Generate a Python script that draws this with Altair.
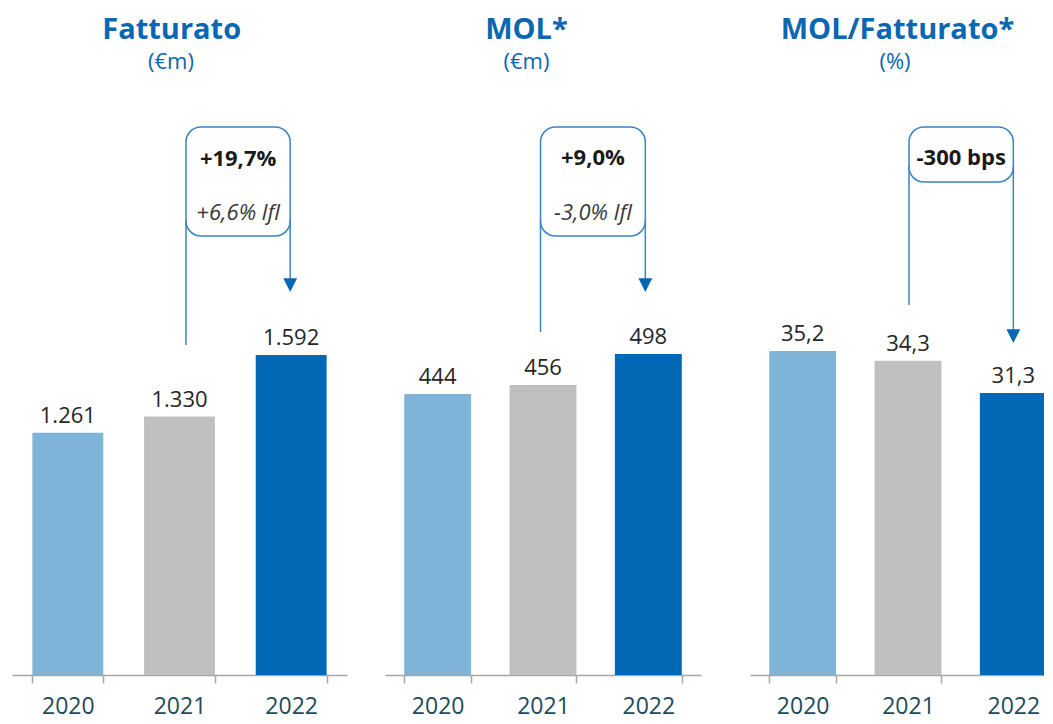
import altair as alt
import pandas as pd

years = ["2020", "2021", "2022"]
fatturato = [1261, 1330, 1592]
mol = [444, 456, 498]
mol_pct = [35.2, 34.3, 31.3]
fatturato_lbl = ["1.261", "1.330", "1.592"]
mol_lbl = ["444", "456", "498"]
mol_pct_lbl = ["35,2", "34,3", "31,3"]
titles = ["Fatturato", "MOL*", "MOL/Fatturato*"]
subtitles = ["(€m)", "(€m)", "(%)"]
changes = ["+19,7%", "+9,0%", "-300 bps"]
lfl = ["+6,6% lfl", "-3,0% lfl", ""]
bar_colors = ["#7fb3d8", "#bfbfbf", "#0068b4"]

FONT = "Open Sans"
BLUE = "#0a67b1"
LINE_BLUE = "#3a83c4"
H = 667
PI = 0.365


def panel(values, labels, title, subtitle, change, lfl_txt, width, ydom,
          title_x, sub_x, box_top, box_bot, loff, roff, left_end, arrow_tip,
          bold_y, ital_y):
    df = pd.DataFrame({"year": years, "value": values, "label": labels})
    base = alt.Chart(df)
    step = width / 3.0
    xenc = alt.X("year:N", scale=alt.Scale(domain=years, paddingInner=PI, paddingOuter=PI / 2),
                 axis=alt.Axis(title=None, tickBand="extent", domainColor="#a6a6a6",
                               tickColor="#a6a6a6", domainWidth=1.5, tickWidth=1.5,
                               tickSize=8, labelFontSize=23, labelColor="#1d4b5b",
                               labelFont=FONT, labelPadding=12, labelAngle=0))
    yscale = alt.Scale(domain=ydom, zero=False, nice=False)
    bars = base.mark_bar().encode(
        x=xenc,
        y=alt.Y("value:Q", scale=yscale, axis=None),
        y2=alt.datum(ydom[0]),
        color=alt.Color("year:N", scale=alt.Scale(domain=years, range=bar_colors), legend=None),
    )
    vlabels = base.mark_text(font=FONT, fontSize=22, color="#262626", dy=-10,
                             baseline="alphabetic").encode(
        x=alt.X("year:N"), y=alt.Y("value:Q"), text="label:N")

    one = alt.Chart(pd.DataFrame({"t": [title], "s": [subtitle], "c": [change], "l": [lfl_txt]}))
    ttl = one.mark_text(font=FONT, fontSize=29, fontWeight="bold", color=BLUE,
                        baseline="alphabetic").encode(
        x=alt.value(title_x), y=alt.value(31), text="t:N")
    sub = one.mark_text(font=FONT, fontSize=22, color=BLUE, baseline="alphabetic").encode(
        x=alt.value(sub_x), y=alt.value(61), text="s:N")

    lline = one.mark_rule(color=LINE_BLUE, strokeWidth=1.5, xOffset=loff).encode(
        x=alt.XDatum("2021"), y=alt.value(box_bot - 16), y2=alt.value(left_end))
    rline = one.mark_rule(color=LINE_BLUE, strokeWidth=1.5, xOffset=roff).encode(
        x=alt.XDatum("2022"), y=alt.value(box_bot - 16), y2=alt.value(arrow_tip - 8))
    box = one.mark_rect(cornerRadius=15, fill="white", fillOpacity=0, stroke=LINE_BLUE,
                        strokeWidth=1.5, xOffset=loff, x2Offset=roff).encode(
        x=alt.XDatum("2021", bandPosition=0.5), x2=alt.X2Datum("2022", bandPosition=0.5),
        y=alt.value(box_top), y2=alt.value(box_bot))
    arrow = one.mark_point(shape="M-1,-1L1,-1L0,1Z", size=190, filled=True, opacity=1,
                           color="#0068b4", xOffset=roff).encode(
        x=alt.XDatum("2022"), y=alt.value(arrow_tip - 6.9))
    toff = (step + loff + roff) / 2.0
    btxt = one.mark_text(font=FONT, fontSize=22, fontWeight="bold", color="#1a1a1a",
                         baseline="alphabetic", xOffset=toff).encode(
        x=alt.XDatum("2021"), y=alt.value(bold_y), text="c:N")
    layers = [bars, vlabels, ttl, sub, lline, rline, box, arrow, btxt]
    if lfl_txt:
        itxt = one.mark_text(font=FONT, fontSize=22, fontStyle="italic", color="#3a3a3a",
                             baseline="alphabetic", xOffset=toff).encode(
            x=alt.XDatum("2021"), y=alt.value(ital_y), text="l:N")
        layers.append(itxt)
    return alt.layer(*layers).properties(width=width, height=H)


p1 = panel(fatturato, fatturato_lbl, titles[0], subtitles[0], changes[0], lfl[0], 335,
           [229, 3071], 159.7, 159, 119, 228, 6.5, -1, 337, 284, 158, 212)
p2 = panel(mol, mol_lbl, titles[1], subtitles[1], changes[1], lfl[1], 316,
           [64.6, 965.1], 141.5, 141.5, 119, 228, -2.5, -3, 324, 284, 157, 212)
p3 = panel(mol_pct, mol_pct_lbl, titles[2], subtitles[2], changes[2], lfl[2], 316,
           [5.12, 67.05], 147.5, 145, 119, 174, 1, 0, 297, 335, 157, 0)

inner = alt.hconcat(p1, p2, spacing=38).resolve_scale(x="independent", y="independent")
chart = alt.hconcat(inner, p3, spacing=49).resolve_scale(
    x="independent", y="independent"
).properties(
    padding={"left": 4, "top": 0, "right": -22, "bottom": 1}
).configure(font=FONT).configure_view(stroke="transparent", strokeWidth=0)

chart.save("out.html", embed_options={"renderer": "svg", "actions": False})
